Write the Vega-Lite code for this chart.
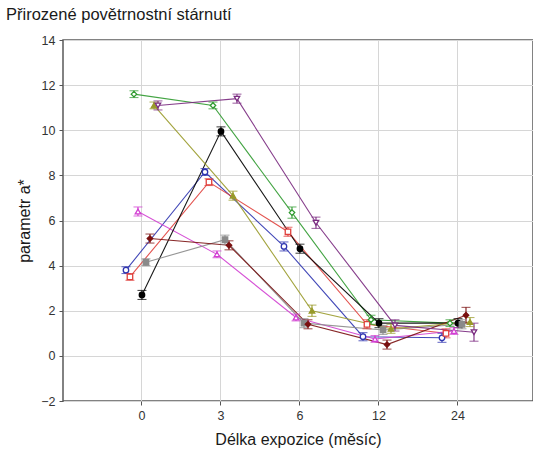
{
  "$schema": "https://vega.github.io/schema/vega-lite/v6.json",
  "autosize": "none",
  "padding": {"left": 63, "top": 40, "right": 0, "bottom": 52},
  "width": 470,
  "height": 361,
  "background": "white",
  "title": {
    "text": "Přirozené povětrnostní stárnutí",
    "anchor": "start",
    "frame": "group",
    "dx": -57,
    "offset": 11,
    "font": "Liberation Sans",
    "fontSize": 16.5,
    "fontWeight": "normal",
    "color": "#1a1a1a"
  },
  "config": {
    "view": {"stroke": "#5a5a5a", "strokeWidth": 1.5},
    "axis": {
      "labelFont": "Liberation Sans",
      "titleFont": "Liberation Sans",
      "labelFontSize": 12.5,
      "titleFontSize": 16,
      "titleFontWeight": "normal",
      "labelColor": "#333333",
      "titleColor": "#1a1a1a",
      "gridColor": "#d6d6d6",
      "gridWidth": 1,
      "tickColor": "#555555",
      "tickSize": 4,
      "domain": false
    }
  },
  "data": {
    "values": [
      {"s": "s1", "m": "0", "v": 3.8, "lo": 3.65, "hi": 3.95},
      {"s": "s1", "m": "3", "v": 8.15, "lo": 8.0, "hi": 8.3},
      {"s": "s1", "m": "6", "v": 4.85, "lo": 4.65, "hi": 5.05},
      {"s": "s1", "m": "12", "v": 0.85, "lo": 0.67, "hi": 1.03},
      {"s": "s1", "m": "24", "v": 0.8, "lo": 0.6, "hi": 1.0},
      {"s": "s2", "m": "0", "v": 3.5, "lo": 3.35, "hi": 3.65},
      {"s": "s2", "m": "3", "v": 7.7, "lo": 7.55, "hi": 7.85},
      {"s": "s2", "m": "6", "v": 5.5, "lo": 5.3, "hi": 5.7},
      {"s": "s2", "m": "12", "v": 1.4, "lo": 1.2, "hi": 1.6},
      {"s": "s2", "m": "24", "v": 1.0, "lo": 0.8, "hi": 1.2},
      {"s": "s3", "m": "0", "v": 11.6, "lo": 11.45, "hi": 11.75},
      {"s": "s3", "m": "3", "v": 11.1, "lo": 10.95, "hi": 11.25},
      {"s": "s3", "m": "6", "v": 6.35, "lo": 6.1, "hi": 6.6},
      {"s": "s3", "m": "12", "v": 1.6, "lo": 1.4, "hi": 1.8},
      {"s": "s3", "m": "24", "v": 1.45, "lo": 1.3, "hi": 1.6},
      {"s": "s4", "m": "0", "v": 6.4, "lo": 6.2, "hi": 6.6},
      {"s": "s4", "m": "3", "v": 4.5, "lo": 4.35, "hi": 4.65},
      {"s": "s4", "m": "6", "v": 1.7, "lo": 1.55, "hi": 1.85},
      {"s": "s4", "m": "12", "v": 0.75, "lo": 0.6, "hi": 0.9},
      {"s": "s4", "m": "24", "v": 1.1, "lo": 0.95, "hi": 1.25},
      {"s": "s5", "m": "0", "v": 2.7, "lo": 2.5, "hi": 2.9},
      {"s": "s5", "m": "3", "v": 9.95, "lo": 9.75, "hi": 10.15},
      {"s": "s5", "m": "6", "v": 4.75, "lo": 4.55, "hi": 4.95},
      {"s": "s5", "m": "12", "v": 1.45, "lo": 1.25, "hi": 1.65},
      {"s": "s5", "m": "24", "v": 1.45, "lo": 1.25, "hi": 1.65},
      {"s": "s6", "m": "0", "v": 4.15, "lo": 4.0, "hi": 4.3},
      {"s": "s6", "m": "3", "v": 5.15, "lo": 4.95, "hi": 5.35},
      {"s": "s6", "m": "6", "v": 1.45, "lo": 1.25, "hi": 1.65},
      {"s": "s6", "m": "12", "v": 1.15, "lo": 0.95, "hi": 1.35},
      {"s": "s6", "m": "24", "v": 1.4, "lo": 1.2, "hi": 1.6},
      {"s": "s7", "m": "0", "v": 5.2, "lo": 5.0, "hi": 5.4},
      {"s": "s7", "m": "3", "v": 4.9, "lo": 4.7, "hi": 5.1},
      {"s": "s7", "m": "6", "v": 1.4, "lo": 1.2, "hi": 1.6},
      {"s": "s7", "m": "12", "v": 0.5, "lo": 0.3, "hi": 0.7},
      {"s": "s7", "m": "24", "v": 1.8, "lo": 1.45, "hi": 2.15},
      {"s": "s8", "m": "0", "v": 11.1, "lo": 10.95, "hi": 11.25},
      {"s": "s8", "m": "3", "v": 7.1, "lo": 6.9, "hi": 7.3},
      {"s": "s8", "m": "6", "v": 2.0, "lo": 1.75, "hi": 2.25},
      {"s": "s8", "m": "12", "v": 1.2, "lo": 1.0, "hi": 1.4},
      {"s": "s8", "m": "24", "v": 1.5, "lo": 1.3, "hi": 1.7},
      {"s": "s9", "m": "0", "v": 11.1, "lo": 10.9, "hi": 11.3},
      {"s": "s9", "m": "3", "v": 11.4, "lo": 11.2, "hi": 11.6},
      {"s": "s9", "m": "6", "v": 5.9, "lo": 5.65, "hi": 6.15},
      {"s": "s9", "m": "12", "v": 1.35, "lo": 1.1, "hi": 1.6},
      {"s": "s9", "m": "24", "v": 1.05, "lo": 0.65, "hi": 1.45}
    ]
  },
  "encoding": {
    "x": {
      "field": "m",
      "type": "ordinal",
      "sort": ["0", "3", "6", "12", "24"],
      "scale": {"paddingInner": 0.443, "paddingOuter": 0.696, "align": 0.518},
      "axis": {
        "title": "Délka expozice (měsíc)",
        "labelAngle": 0,
        "grid": true,
        "bandPosition": 0.5,
        "labelPadding": 4,
        "titlePadding": 10
      }
    },
    "xOffset": {
      "field": "s",
      "type": "nominal",
      "sort": ["s1", "s2", "s3", "s4", "s5", "s6", "s7", "s8", "s9"],
      "scale": {"paddingInner": 0, "paddingOuter": 1}
    },
    "color": {
      "field": "s",
      "type": "nominal",
      "legend": null,
      "scale": {
        "domain": ["s1", "s2", "s3", "s4", "s5", "s6", "s7", "s8", "s9"],
        "range": ["#2f35b0", "#e0403c", "#2f9a2f", "#d23fd2", "#000000", "#8a8a8a", "#7a1010", "#999a2a", "#7a2a80"]
      }
    }
  },
  "layer": [
    {
      "mark": {"type": "line", "strokeWidth": 1.1, "opacity": 0.9},
      "encoding": {
        "y": {
          "field": "v",
          "type": "quantitative",
          "title": "parametr a*",
          "scale": {"domain": [-2, 14], "nice": false},
          "axis": {"values": [-2, 0, 2, 4, 6, 8, 10, 12, 14], "grid": true, "labelPadding": 4, "titlePadding": 8}
        }
      }
    },
    {
      "mark": {"type": "rule", "strokeWidth": 1.1},
      "encoding": {
        "y": {"field": "lo", "type": "quantitative", "title": "parametr a*"},
        "y2": {"field": "hi"}
      }
    },
    {
      "mark": {"type": "tick", "size": 9, "thickness": 1.1, "orient": "horizontal"},
      "encoding": {"y": {"field": "lo", "type": "quantitative", "title": "parametr a*"}}
    },
    {
      "mark": {"type": "tick", "size": 9, "thickness": 1.1, "orient": "horizontal"},
      "encoding": {"y": {"field": "hi", "type": "quantitative", "title": "parametr a*"}}
    },
    {
      "mark": {"type": "point", "size": 30, "strokeWidth": 1.3, "opacity": 1, "filled": false},
      "encoding": {
        "y": {"field": "v", "type": "quantitative", "title": "parametr a*"},
        "shape": {
          "field": "s",
          "type": "nominal",
          "legend": null,
          "scale": {
            "domain": ["s1", "s2", "s3", "s4", "s5", "s6", "s7", "s8", "s9"],
            "range": ["circle", "square", "diamond", "triangle-up", "circle", "square", "diamond", "triangle-up", "triangle-down"]
          }
        },
        "fill": {
          "field": "s",
          "type": "nominal",
          "legend": null,
          "scale": {
            "domain": ["s1", "s2", "s3", "s4", "s5", "s6", "s7", "s8", "s9"],
            "range": ["#ffffff", "#ffffff", "#ffffff", "#ffffff", "#000000", "#8a8a8a", "#7a1010", "#999a2a", "#ffffff"]
          }
        }
      }
    }
  ]
}
